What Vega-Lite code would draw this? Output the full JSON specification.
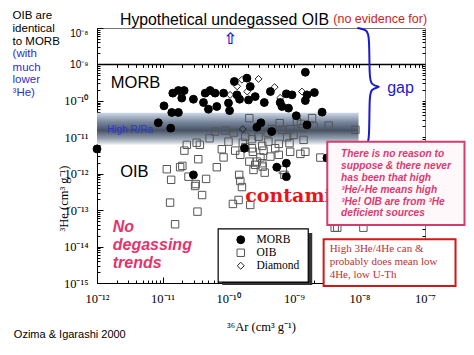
{
  "$schema": "https://vega.github.io/schema/vega-lite/v6.json",
  "width": 328,
  "height": 255,
  "autosize": "none",
  "padding": {"left": 97, "top": 28, "right": 49, "bottom": 72},
  "background": "white",
  "config": {"view": {"stroke": "#777777", "strokeWidth": 1}},
  "resolve": {"axis": {"x": "independent", "y": "independent"}},
  "datasets": {
    "band": [{"x1": 1e-12, "x2": 9.7e-9, "y1": 4.7e-11, "y2": 6.2e-12}],
    "lshadow": [{"x1": 8.1e-11, "x2": 1.91e-9, "y1": 2.37e-14, "y2": 8.8e-16}],
    "lbox": [{"x1": 7.03e-11, "x2": 1.66e-9, "y1": 3.05e-14, "y2": 1.06e-15}],
    "hline": [{"y": 1e-9}],
    "pts": [
      {"x": 1.16e-11, "y": 1.33e-12, "type": "OIB"}, {"x": 1.35e-11, "y": 6.8e-13, "type": "OIB"}, {"x": 1.3e-11, "y": 1.61e-13, "type": "OIB"}, {"x": 1.55e-11, "y": 4.1e-14, "type": "OIB"},
      {"x": 1.85e-11, "y": 1.51e-12, "type": "OIB"}, {"x": 2.0e-11, "y": 1.64e-12, "type": "OIB"}, {"x": 2.15e-11, "y": 4.3e-12, "type": "OIB"}, {"x": 2.34e-11, "y": 6.2e-12, "type": "OIB"},
      {"x": 2.48e-11, "y": 8.3e-13, "type": "OIB"}, {"x": 3.13e-11, "y": 4.6e-13, "type": "OIB"}, {"x": 3.2e-11, "y": 5.2e-13, "type": "OIB"}, {"x": 3.5e-11, "y": 2.5e-12, "type": "OIB"},
      {"x": 3.7e-11, "y": 6.2e-12, "type": "OIB"}, {"x": 4.0e-11, "y": 2.6e-13, "type": "OIB"}, {"x": 4.6e-11, "y": 7.2e-13, "type": "OIB"}, {"x": 3.4e-11, "y": 9.1e-14, "type": "OIB"},
      {"x": 5.2e-11, "y": 9.4e-12, "type": "OIB"}, {"x": 6.3e-11, "y": 1.44e-11, "type": "OIB"}, {"x": 6.7e-11, "y": 1.51e-12, "type": "OIB"}, {"x": 8.0e-11, "y": 4.7e-12, "type": "OIB"},
      {"x": 8.5e-11, "y": 2.8e-12, "type": "OIB"}, {"x": 9.0e-11, "y": 1.53e-11, "type": "OIB"}, {"x": 1.01e-10, "y": 7.6e-12, "type": "OIB"}, {"x": 1.21e-10, "y": 1.35e-11, "type": "OIB"},
      {"x": 1.28e-10, "y": 4.3e-12, "type": "OIB"}, {"x": 1.18e-10, "y": 1.48e-13, "type": "OIB"}, {"x": 1.44e-10, "y": 1.9e-13, "type": "OIB"}, {"x": 1.47e-10, "y": 9.3e-13, "type": "OIB"},
      {"x": 1.53e-10, "y": 6.3e-13, "type": "OIB"}, {"x": 1.62e-10, "y": 4.3e-13, "type": "OIB"}, {"x": 1.53e-10, "y": 3.3e-12, "type": "OIB"}, {"x": 1.67e-10, "y": 7.1e-12, "type": "OIB"},
      {"x": 1.82e-10, "y": 1.04e-11, "type": "OIB"}, {"x": 1.82e-10, "y": 5.3e-12, "type": "OIB"}, {"x": 2.17e-10, "y": 1.39e-13, "type": "OIB"}, {"x": 2.1e-10, "y": 3.35e-11, "type": "OIB"},
      {"x": 2.3e-10, "y": 8.9e-12, "type": "OIB"}, {"x": 2.3e-10, "y": 5.0e-12, "type": "OIB"}, {"x": 2.38e-10, "y": 4.0e-12, "type": "OIB"}, {"x": 2.43e-10, "y": 1.27e-12, "type": "OIB"},
      {"x": 2.58e-10, "y": 1.75e-12, "type": "OIB"}, {"x": 2.74e-10, "y": 2.15e-12, "type": "OIB"}, {"x": 3.1e-10, "y": 2.8e-12, "type": "OIB"}, {"x": 3.3e-10, "y": 1.94e-12, "type": "OIB"},
      {"x": 3.35e-10, "y": 1.57e-12, "type": "OIB"}, {"x": 2.9e-10, "y": 1.04e-11, "type": "OIB"}, {"x": 3.3e-10, "y": 5.8e-12, "type": "OIB"}, {"x": 3.46e-10, "y": 4.3e-12, "type": "OIB"},
      {"x": 3.6e-10, "y": 1.07e-12, "type": "OIB"}, {"x": 4.0e-10, "y": 1.35e-11, "type": "OIB"}, {"x": 4.1e-10, "y": 7.6e-12, "type": "OIB"}, {"x": 4.6e-10, "y": 1.67e-11, "type": "OIB"},
      {"x": 4.4e-10, "y": 2.95e-12, "type": "OIB"}, {"x": 5.2e-10, "y": 5.0e-12, "type": "OIB"}, {"x": 5.9e-10, "y": 6.6e-12, "type": "OIB"}, {"x": 6.1e-10, "y": 2.44e-11, "type": "OIB"},
      {"x": 6.6e-10, "y": 1.6e-11, "type": "OIB"}, {"x": 5.9e-10, "y": 3.3e-12, "type": "OIB"}, {"x": 6.8e-10, "y": 1.27e-12, "type": "OIB"}, {"x": 7.2e-10, "y": 9.3e-13, "type": "OIB"},
      {"x": 7.9e-10, "y": 1.0e-11, "type": "OIB"}, {"x": 8.6e-10, "y": 6.9e-12, "type": "OIB"}, {"x": 8.8e-10, "y": 1.67e-11, "type": "OIB"}, {"x": 9.9e-10, "y": 1.16e-11, "type": "OIB"},
      {"x": 8.8e-10, "y": 4.0e-12, "type": "OIB"}, {"x": 1.12e-9, "y": 2.7e-11, "type": "OIB"}, {"x": 1.29e-9, "y": 2.33e-11, "type": "OIB"}, {"x": 1.38e-9, "y": 1.78e-11, "type": "OIB"},
      {"x": 1.41e-9, "y": 8.5e-12, "type": "OIB"}, {"x": 1.5e-9, "y": 4.0e-12, "type": "OIB"}, {"x": 1.9e-9, "y": 3.35e-11, "type": "OIB"}, {"x": 2.0e-9, "y": 1.97e-11, "type": "OIB"},
      {"x": 2.54e-9, "y": 2.77e-12, "type": "OIB"}, {"x": 3.4e-9, "y": 2.1e-11, "type": "OIB"}, {"x": 8.7e-9, "y": 1.6e-11, "type": "OIB"}, {"x": 4.2e-9, "y": 3.3e-14, "type": "OIB"},
      {"x": 4.6e-9, "y": 3.3e-14, "type": "OIB"}, {"x": 1.15e-8, "y": 3.3e-14, "type": "OIB"}, {"x": 3.3e-11, "y": 7.1e-12, "type": "OIB"}, {"x": 2.1e-10, "y": 2.15e-12, "type": "OIB"},
      {"x": 1.26e-9, "y": 3.5e-12, "type": "OIB"},
      {"x": 1.62e-10, "y": 3.8e-10, "type": "Diamond"}, {"x": 2.9e-10, "y": 4.0e-10, "type": "Diamond"}, {"x": 1.37e-10, "y": 2.5e-10, "type": "Diamond"}, {"x": 1.95e-10, "y": 1.8e-10, "type": "Diamond"},
      {"x": 5.1e-10, "y": 2.38e-10, "type": "Diamond"}, {"x": 1.33e-9, "y": 1.8e-10, "type": "Diamond"}, {"x": 6.2e-10, "y": 1.21e-10, "type": "Diamond"}, {"x": 1.67e-10, "y": 1.67e-11, "type": "Diamond"},
      {"x": 1.07e-10, "y": 1.46e-10, "type": "Diamond"},
      {"x": 1e-12, "y": 4.8e-12, "type": "MORB"}, {"x": 8.6e-12, "y": 2.5e-11, "type": "MORB"}, {"x": 1.05e-11, "y": 7.3e-11, "type": "MORB"}, {"x": 1.33e-11, "y": 1.78e-11, "type": "MORB"},
      {"x": 1.38e-11, "y": 4.8e-11, "type": "MORB"}, {"x": 1.74e-11, "y": 4.8e-11, "type": "MORB"}, {"x": 1.43e-11, "y": 1.63e-10, "type": "MORB"}, {"x": 1.74e-11, "y": 1.92e-10, "type": "MORB"},
      {"x": 2.13e-11, "y": 1.92e-10, "type": "MORB"}, {"x": 1.96e-11, "y": 1.19e-10, "type": "MORB"}, {"x": 2.95e-11, "y": 1.11e-10, "type": "MORB"}, {"x": 4.46e-11, "y": 1.63e-10, "type": "MORB"},
      {"x": 5.3e-11, "y": 1.92e-10, "type": "MORB"}, {"x": 6.3e-11, "y": 1.63e-10, "type": "MORB"}, {"x": 4.2e-11, "y": 9.0e-11, "type": "MORB"}, {"x": 5.0e-11, "y": 5.9e-11, "type": "MORB"},
      {"x": 6.7e-11, "y": 7.0e-11, "type": "MORB"}, {"x": 8.5e-11, "y": 1.63e-10, "type": "MORB"}, {"x": 1.01e-10, "y": 8.7e-11, "type": "MORB"}, {"x": 1.05e-10, "y": 5.4e-11, "type": "MORB"},
      {"x": 1.24e-10, "y": 3.4e-10, "type": "MORB"}, {"x": 1.36e-10, "y": 1.46e-10, "type": "MORB"}, {"x": 1.49e-10, "y": 1.11e-10, "type": "MORB"}, {"x": 1.93e-10, "y": 4.2e-10, "type": "MORB"},
      {"x": 2.17e-10, "y": 2.47e-10, "type": "MORB"}, {"x": 2.04e-10, "y": 1.06e-10, "type": "MORB"}, {"x": 2.58e-10, "y": 1.31e-10, "type": "MORB"}, {"x": 3.55e-10, "y": 9.0e-11, "type": "MORB"},
      {"x": 4.4e-10, "y": 1.8e-10, "type": "MORB"}, {"x": 6.2e-10, "y": 9.0e-11, "type": "MORB"}, {"x": 6.6e-10, "y": 7.0e-11, "type": "MORB"}, {"x": 7.7e-10, "y": 1.56e-10, "type": "MORB"},
      {"x": 8.3e-10, "y": 6.3e-11, "type": "MORB"}, {"x": 9.4e-10, "y": 1.46e-10, "type": "MORB"}, {"x": 1.5e-9, "y": 6.1e-10, "type": "MORB"}, {"x": 1.59e-9, "y": 1.46e-10, "type": "MORB"},
      {"x": 1.5e-9, "y": 1.02e-10, "type": "MORB"}, {"x": 2.06e-9, "y": 1.69e-10, "type": "MORB"}, {"x": 2.7e-9, "y": 4.9e-11, "type": "MORB"}, {"x": 1.09e-9, "y": 3.9e-11, "type": "MORB"},
      {"x": 3.15e-10, "y": 2.5e-11, "type": "MORB"}, {"x": 2.74e-10, "y": 1.89e-11, "type": "MORB"}, {"x": 4.6e-10, "y": 1.44e-11, "type": "MORB"}, {"x": 1.59e-9, "y": 2.19e-11, "type": "MORB"},
      {"x": 1.77e-10, "y": 5.0e-12, "type": "MORB"}, {"x": 2.95e-11, "y": 9.3e-13, "type": "MORB"}, {"x": 5.5e-10, "y": 1.51e-12, "type": "MORB"}, {"x": 7.7e-10, "y": 1.94e-12, "type": "MORB"},
      {"x": 7.7e-10, "y": 8.3e-13, "type": "MORB"}, {"x": 3.2e-9, "y": 2.7e-12, "type": "MORB"}
    ],
    "rra": [{"x": 1.42e-12, "y": 1.6e-11, "t": "High R/Ra"}],
    "big": [{"x": 3.87e-12, "y": 3.06e-10, "t": "MORB"}, {"x": 3.71e-12, "y": 1.14e-12, "t": "OIB"}],
    "title": [{"x": 2.24e-12, "y": 1.61e-8, "t": "Hypothetical undegassed OIB"}],
    "noev": [{"x": 4.0e-9, "y": 1.79e-8, "t": "(no evidence for)"}],
    "arrow": [{"x": 1.07e-10, "y": 4.9e-9, "t": "⇧"}],
    "gap": [{"x": 4.23e-8, "y": 2.28e-10, "t": "gap"}],
    "brace": [
      {"o": 1, "x": 9.3e-9, "y": 1e-8}, {"o": 2, "x": 1.3e-8, "y": 9.0e-9}, {"o": 3, "x": 1.42e-8, "y": 6.1e-9},
      {"o": 4, "x": 1.42e-8, "y": 4.6e-10}, {"o": 5, "x": 1.5e-8, "y": 2.8e-10}, {"o": 6, "x": 2.0e-8, "y": 2.43e-10}, {"o": 7, "x": 2.0e-8, "y": 2.43e-10},
      {"o": 8, "x": 1.5e-8, "y": 2.1e-10}, {"o": 9, "x": 1.42e-8, "y": 1.3e-10}, {"o": 10, "x": 1.42e-8, "y": 8.5e-12},
      {"o": 11, "x": 1.3e-8, "y": 5.3e-12}, {"o": 12, "x": 9.66e-9, "y": 4.5e-12}
    ],
    "leftblack": [
      {"x": 5.16e-14, "y": 2.07e-8, "t": "OIB are"}, {"x": 5.16e-14, "y": 9.33e-9, "t": "identical"}, {"x": 5.16e-14, "y": 4.26e-9, "t": "to MORB"}
    ],
    "leftblue": [
      {"x": 5.16e-14, "y": 1.92e-9, "t": "(with"}, {"x": 5.16e-14, "y": 8.2e-10, "t": "much"}, {"x": 5.16e-14, "y": 3.78e-10, "t": "lower"}, {"x": 5.16e-14, "y": 1.63e-10, "t": "³He)"}
    ],
    "nodeg": [
      {"x": 1.74e-12, "y": 3.5e-14, "t": "No"}, {"x": 1.74e-12, "y": 1.11e-14, "t": "degassing"}, {"x": 1.74e-12, "y": 3.6e-15, "t": "trends"}
    ],
    "cite": [{"x": 5.4e-14, "y": 3.7e-17, "t": "Ozima & Igarashi 2000"}],
    "contam": [{"x": 1.82e-10, "y": 2.45e-13, "t": "contami"}],
    "pinkbox": [{"x1": 3.24e-9, "x2": 4.0e-7, "y1": 7.6e-12, "y2": 3.9e-14}],
    "pinktext": [
      {"x": 5.26e-9, "y": 3.5e-12, "t": "There is no reason to"},
      {"x": 5.26e-9, "y": 1.67e-12, "t": "suppose & there never"},
      {"x": 5.26e-9, "y": 7.8e-13, "t": "has been that high"},
      {"x": 5.26e-9, "y": 3.6e-13, "t": "³He/⁴He means high"},
      {"x": 5.26e-9, "y": 1.71e-13, "t": "³He! OIB are from ³He"},
      {"x": 5.26e-9, "y": 8.2e-14, "t": "deficient sources"}
    ],
    "redbox": [{"x1": 2.85e-9, "x2": 2.92e-7, "y1": 1.59e-14, "y2": 8.3e-16}],
    "redtext": [
      {"x": 3.52e-9, "y": 8.4e-15, "t": "High 3He/4He can &"},
      {"x": 3.52e-9, "y": 3.7e-15, "t": "probably does mean low"},
      {"x": 3.52e-9, "y": 1.66e-15, "t": "4He, low U-Th"}
    ]
  },
  "layer": [
    {
      "data": {"name": "band"},
      "mark": {"type": "rect", "fill": {"gradient": "linear", "x1": 0, "y1": 0, "x2": 0, "y2": 1, "stops": [{"offset": 0, "color": "#cdd8e6"}, {"offset": 0.3, "color": "#76849a"}, {"offset": 0.55, "color": "#475365"}, {"offset": 0.8, "color": "#949fae"}, {"offset": 1, "color": "#eef1f5"}]}},
      "encoding": {
        "x": {"field": "x1", "type": "quantitative", "scale": {"type": "log", "domain": [1e-12, 1e-7]},
          "axis": {"orient": "bottom", "values": [1e-12, 1e-11, 1e-10, 1e-9, 1e-8, 1e-7], "labelExpr": "'10⁻' + (round(-log(datum.value)/LN10) >= 10 ? '¹' : '') + substring('⁰¹²³⁴⁵⁶⁷⁸⁹', round(-log(datum.value)/LN10) % 10, round(-log(datum.value)/LN10) % 10 + 1)", "labelFont": "Liberation Serif", "labelFontSize": 12.5, "labelColor": "black", "labelFlush": false, "labelOverlap": false, "tickSize": -6, "tickColor": "black", "labelPadding": 15, "domainColor": "black", "grid": false, "title": "³⁶Ar (cm³ g⁻¹)", "titleFont": "Liberation Serif", "titleFontSize": 12.5, "titleFontWeight": "normal", "titleColor": "black", "titlePadding": 16}},
        "x2": {"field": "x2"},
        "y": {"field": "y1", "type": "quantitative", "scale": {"type": "log", "domain": [1e-15, 1e-8]},
          "axis": {"orient": "left", "values": [1e-15, 1e-14, 1e-13, 1e-12, 1e-11, 1e-10, 1e-9, 1e-8], "labelExpr": "'10⁻' + (round(-log(datum.value)/LN10) >= 10 ? '¹' : '') + substring('⁰¹²³⁴⁵⁶⁷⁸⁹', round(-log(datum.value)/LN10) % 10, round(-log(datum.value)/LN10) % 10 + 1)", "labelFont": {"condition": {"test": "datum.value > 5e-10", "value": "Liberation Sans"}, "value": "Liberation Serif"}, "labelFontSize": {"condition": {"test": "datum.value > 5e-10", "value": 10}, "value": 12.5}, "labelBaseline": {"condition": {"test": "datum.value > 5e-9", "value": "top"}, "value": "middle"}, "labelColor": "black", "labelOverlap": false, "tickSize": -6, "tickColor": "black", "labelPadding": 15, "domainColor": "black", "grid": false, "title": "³He (cm³ g⁻¹)", "titleFont": "Liberation Serif", "titleFontSize": 12.5, "titleFontWeight": "normal", "titleColor": "black", "titleX": -27, "titleY": 170}},
        "y2": {"field": "y2"}
      }
    },
    {
      "data": {"name": "lshadow"},
      "mark": {"type": "rect", "fill": "#333333"},
      "encoding": {
        "x": {"field": "x1", "type": "quantitative", "scale": {"type": "log", "domain": [1e-12, 1e-7]},
          "axis": {"orient": "bottom", "values": [2e-12, 3e-12, 4e-12, 5e-12, 6e-12, 7e-12, 8e-12, 9e-12, 2e-11, 3e-11, 4e-11, 5e-11, 6e-11, 7e-11, 8e-11, 9e-11, 2e-10, 3e-10, 4e-10, 5e-10, 6e-10, 7e-10, 8e-10, 9e-10, 2e-9, 3e-9, 4e-9, 5e-9, 6e-9, 7e-9, 8e-9, 9e-9, 2e-8, 3e-8, 4e-8, 5e-8, 6e-8, 7e-8, 8e-8, 9e-8], "labels": false, "domain": false, "tickSize": -3, "tickColor": "black", "grid": false, "title": null}},
        "x2": {"field": "x2"},
        "y": {"field": "y1", "type": "quantitative", "scale": {"type": "log", "domain": [1e-15, 1e-8]},
          "axis": {"orient": "left", "values": [2e-15, 3e-15, 4e-15, 5e-15, 6e-15, 7e-15, 8e-15, 9e-15, 2e-14, 3e-14, 4e-14, 5e-14, 6e-14, 7e-14, 8e-14, 9e-14, 2e-13, 3e-13, 4e-13, 5e-13, 6e-13, 7e-13, 8e-13, 9e-13, 2e-12, 3e-12, 4e-12, 5e-12, 6e-12, 7e-12, 8e-12, 9e-12, 2e-11, 3e-11, 4e-11, 5e-11, 6e-11, 7e-11, 8e-11, 9e-11, 2e-10, 3e-10, 4e-10, 5e-10, 6e-10, 7e-10, 8e-10, 9e-10, 2e-9, 3e-9, 4e-9, 5e-9, 6e-9, 7e-9, 8e-9, 9e-9], "labels": false, "domain": false, "tickSize": -3, "tickColor": "black", "grid": false, "title": null}},
        "y2": {"field": "y2"}
      }
    },
    {
      "data": {"name": "lbox"},
      "mark": {"type": "rect", "fill": "white", "stroke": "black", "strokeWidth": 1.2},
      "encoding": {
        "x": {"field": "x1", "type": "quantitative", "scale": {"type": "log", "domain": [1e-12, 1e-7]}, "axis": null},
        "x2": {"field": "x2"},
        "y": {"field": "y1", "type": "quantitative", "scale": {"type": "log", "domain": [1e-15, 1e-8]}, "axis": null},
        "y2": {"field": "y2"}
      }
    },
    {
      "data": {"name": "hline"},
      "mark": {"type": "rule", "color": "black", "strokeWidth": 1.5},
      "encoding": {
        "y": {"field": "y", "type": "quantitative", "scale": {"type": "log", "domain": [1e-15, 1e-8]}, "axis": null}
      }
    },
    {
      "data": {"name": "pts"},
      "mark": {"type": "point", "strokeWidth": 1, "opacity": 1},
      "encoding": {
        "x": {"field": "x", "type": "quantitative", "scale": {"type": "log", "domain": [1e-12, 1e-7]},
          "axis": {"orient": "top", "offset": -36.4, "values": [2e-12, 3e-12, 4e-12, 5e-12, 6e-12, 7e-12, 8e-12, 9e-12, 1e-11, 2e-11, 3e-11, 4e-11, 5e-11, 6e-11, 7e-11, 8e-11, 9e-11, 1e-10, 2e-10, 3e-10, 4e-10, 5e-10, 6e-10, 7e-10, 8e-10, 9e-10, 1e-9, 2e-9, 3e-9, 4e-9, 5e-9, 6e-9, 7e-9, 8e-9, 9e-9, 1e-8, 2e-8, 3e-8, 4e-8, 5e-8, 6e-8, 7e-8, 8e-8, 9e-8], "labels": false, "domain": false, "tickSize": -3, "tickColor": "black", "grid": false, "title": null}},
        "y": {"field": "y", "type": "quantitative", "scale": {"type": "log", "domain": [1e-15, 1e-8]},
          "axis": {"orient": "right", "values": [2e-15, 3e-15, 4e-15, 5e-15, 6e-15, 7e-15, 8e-15, 9e-15, 1e-14, 2e-14, 3e-14, 4e-14, 5e-14, 6e-14, 7e-14, 8e-14, 9e-14, 1e-13, 2e-13, 3e-13, 4e-13, 5e-13, 6e-13, 7e-13, 8e-13, 9e-13, 1e-12, 2e-12, 3e-12, 4e-12, 5e-12, 6e-12, 7e-12, 8e-12, 9e-12, 1e-11, 2e-11, 3e-11, 4e-11, 5e-11, 6e-11, 7e-11, 8e-11, 9e-11, 1e-10, 2e-10, 3e-10, 4e-10, 5e-10, 6e-10, 7e-10, 8e-10, 9e-10, 1e-9, 2e-9, 3e-9, 4e-9, 5e-9, 6e-9, 7e-9, 8e-9, 9e-9], "labels": false, "domain": false, "tickSize": -3, "tickColor": "black", "grid": false, "title": null}},
        "shape": {"field": "type", "type": "nominal", "scale": {"domain": ["MORB", "OIB", "Diamond"], "range": ["circle", "square", "diamond"]},
          "legend": {"orient": "none", "legendX": 138, "legendY": 206, "title": null, "padding": 0, "labelFont": "Liberation Serif", "labelFontSize": 11.5, "labelColor": "black", "labelOffset": 10, "rowPadding": 0, "symbolStrokeWidth": 1}},
        "fill": {"field": "type", "type": "nominal", "scale": {"domain": ["MORB", "OIB", "Diamond"], "range": ["black", "transparent", "transparent"]},
          "legend": {"orient": "none", "legendX": 138, "legendY": 206, "title": null, "padding": 0, "labelFont": "Liberation Serif", "labelFontSize": 11.5, "labelColor": "black", "labelOffset": 10, "rowPadding": 0, "symbolStrokeWidth": 1}},
        "stroke": {"field": "type", "type": "nominal", "scale": {"domain": ["MORB", "OIB", "Diamond"], "range": ["black", "#555555", "#222222"]},
          "legend": {"orient": "none", "legendX": 138, "legendY": 206, "title": null, "padding": 0, "labelFont": "Liberation Serif", "labelFontSize": 11.5, "labelColor": "black", "labelOffset": 10, "rowPadding": 0, "symbolStrokeWidth": 1}},
        "size": {"field": "type", "type": "nominal", "scale": {"domain": ["MORB", "OIB", "Diamond"], "range": [62, 48, 58]},
          "legend": {"orient": "none", "legendX": 138, "legendY": 206, "title": null, "padding": 0, "labelFont": "Liberation Serif", "labelFontSize": 11.5, "labelColor": "black", "labelOffset": 10, "rowPadding": 0, "symbolStrokeWidth": 1}}
      }
    },
    {
      "data": {"name": "rra"},
      "mark": {"type": "text", "align": "left", "baseline": "middle", "font": "Liberation Sans", "fontSize": 10, "color": "#2a36d8"},
      "encoding": {"x": {"field": "x", "type": "quantitative", "scale": {"type": "log", "domain": [1e-12, 1e-7]}, "axis": null}, "y": {"field": "y", "type": "quantitative", "scale": {"type": "log", "domain": [1e-15, 1e-8]}, "axis": null}, "text": {"field": "t"}}
    },
    {
      "data": {"name": "big"},
      "mark": {"type": "text", "align": "center", "baseline": "middle", "font": "Liberation Sans", "fontSize": 16.5, "color": "black"},
      "encoding": {"x": {"field": "x", "type": "quantitative", "scale": {"type": "log", "domain": [1e-12, 1e-7]}, "axis": null}, "y": {"field": "y", "type": "quantitative", "scale": {"type": "log", "domain": [1e-15, 1e-8]}, "axis": null}, "text": {"field": "t"}}
    },
    {
      "data": {"name": "title"},
      "mark": {"type": "text", "align": "left", "baseline": "middle", "font": "Liberation Sans", "fontSize": 15.8, "color": "black"},
      "encoding": {"x": {"field": "x", "type": "quantitative", "scale": {"type": "log", "domain": [1e-12, 1e-7]}, "axis": null}, "y": {"field": "y", "type": "quantitative", "scale": {"type": "log", "domain": [1e-15, 1e-8]}, "axis": null}, "text": {"field": "t"}}
    },
    {
      "data": {"name": "noev"},
      "mark": {"type": "text", "align": "left", "baseline": "middle", "font": "Liberation Sans", "fontSize": 12.5, "color": "#d42020"},
      "encoding": {"x": {"field": "x", "type": "quantitative", "scale": {"type": "log", "domain": [1e-12, 1e-7]}, "axis": null}, "y": {"field": "y", "type": "quantitative", "scale": {"type": "log", "domain": [1e-15, 1e-8]}, "axis": null}, "text": {"field": "t"}}
    },
    {
      "data": {"name": "arrow"},
      "mark": {"type": "text", "align": "center", "baseline": "middle", "font": "DejaVu Sans", "fontSize": 16, "fontWeight": "bold", "color": "#1a1ad0"},
      "encoding": {"x": {"field": "x", "type": "quantitative", "scale": {"type": "log", "domain": [1e-12, 1e-7]}, "axis": null}, "y": {"field": "y", "type": "quantitative", "scale": {"type": "log", "domain": [1e-15, 1e-8]}, "axis": null}, "text": {"field": "t"}}
    },
    {
      "data": {"name": "gap"},
      "mark": {"type": "text", "align": "center", "baseline": "middle", "font": "Liberation Sans", "fontSize": 16, "color": "#1a1ad0"},
      "encoding": {"x": {"field": "x", "type": "quantitative", "scale": {"type": "log", "domain": [1e-12, 1e-7]}, "axis": null}, "y": {"field": "y", "type": "quantitative", "scale": {"type": "log", "domain": [1e-15, 1e-8]}, "axis": null}, "text": {"field": "t"}}
    },
    {
      "data": {"name": "brace"},
      "mark": {"type": "line", "interpolate": "basis", "color": "#1a1ad0", "strokeWidth": 2},
      "encoding": {"x": {"field": "x", "type": "quantitative", "scale": {"type": "log", "domain": [1e-12, 1e-7]}, "axis": null}, "y": {"field": "y", "type": "quantitative", "scale": {"type": "log", "domain": [1e-15, 1e-8]}, "axis": null}, "order": {"field": "o", "type": "quantitative"}}
    },
    {
      "data": {"name": "leftblack"},
      "mark": {"type": "text", "align": "left", "baseline": "middle", "font": "Liberation Sans", "fontSize": 11.5, "color": "black"},
      "encoding": {"x": {"field": "x", "type": "quantitative", "scale": {"type": "log", "domain": [1e-12, 1e-7]}, "axis": null}, "y": {"field": "y", "type": "quantitative", "scale": {"type": "log", "domain": [1e-15, 1e-8]}, "axis": null}, "text": {"field": "t"}}
    },
    {
      "data": {"name": "leftblue"},
      "mark": {"type": "text", "align": "left", "baseline": "middle", "font": "Liberation Sans", "fontSize": 11.5, "color": "#2f2fcc"},
      "encoding": {"x": {"field": "x", "type": "quantitative", "scale": {"type": "log", "domain": [1e-12, 1e-7]}, "axis": null}, "y": {"field": "y", "type": "quantitative", "scale": {"type": "log", "domain": [1e-15, 1e-8]}, "axis": null}, "text": {"field": "t"}}
    },
    {
      "data": {"name": "nodeg"},
      "mark": {"type": "text", "align": "left", "baseline": "middle", "font": "Liberation Sans", "fontSize": 16, "fontWeight": "bold", "fontStyle": "italic", "color": "#e6336b"},
      "encoding": {"x": {"field": "x", "type": "quantitative", "scale": {"type": "log", "domain": [1e-12, 1e-7]}, "axis": null}, "y": {"field": "y", "type": "quantitative", "scale": {"type": "log", "domain": [1e-15, 1e-8]}, "axis": null}, "text": {"field": "t"}}
    },
    {
      "data": {"name": "cite"},
      "mark": {"type": "text", "align": "left", "baseline": "middle", "font": "Liberation Sans", "fontSize": 11, "color": "black"},
      "encoding": {"x": {"field": "x", "type": "quantitative", "scale": {"type": "log", "domain": [1e-12, 1e-7]}, "axis": null}, "y": {"field": "y", "type": "quantitative", "scale": {"type": "log", "domain": [1e-15, 1e-8]}, "axis": null}, "text": {"field": "t"}}
    },
    {
      "data": {"name": "contam"},
      "mark": {"type": "text", "align": "left", "baseline": "middle", "font": "DejaVu Serif", "fontSize": 19, "fontWeight": "bold", "color": "#e8141c"},
      "encoding": {"x": {"field": "x", "type": "quantitative", "scale": {"type": "log", "domain": [1e-12, 1e-7]}, "axis": null}, "y": {"field": "y", "type": "quantitative", "scale": {"type": "log", "domain": [1e-15, 1e-8]}, "axis": null}, "text": {"field": "t"}}
    },
    {
      "data": {"name": "pinkbox"},
      "mark": {"type": "rect", "fill": "#fff8fa", "stroke": "#d23c70", "strokeWidth": 2},
      "encoding": {"x": {"field": "x1", "type": "quantitative", "scale": {"type": "log", "domain": [1e-12, 1e-7]}, "axis": null}, "x2": {"field": "x2"}, "y": {"field": "y1", "type": "quantitative", "scale": {"type": "log", "domain": [1e-15, 1e-8]}, "axis": null}, "y2": {"field": "y2"}}
    },
    {
      "data": {"name": "pinktext"},
      "mark": {"type": "text", "align": "left", "baseline": "middle", "font": "Liberation Sans", "fontSize": 10.2, "fontWeight": "bold", "fontStyle": "italic", "color": "#e0386e"},
      "encoding": {"x": {"field": "x", "type": "quantitative", "scale": {"type": "log", "domain": [1e-12, 1e-7]}, "axis": null}, "y": {"field": "y", "type": "quantitative", "scale": {"type": "log", "domain": [1e-15, 1e-8]}, "axis": null}, "text": {"field": "t"}}
    },
    {
      "data": {"name": "redbox"},
      "mark": {"type": "rect", "fill": "white", "stroke": "#d01818", "strokeWidth": 2},
      "encoding": {"x": {"field": "x1", "type": "quantitative", "scale": {"type": "log", "domain": [1e-12, 1e-7]}, "axis": null}, "x2": {"field": "x2"}, "y": {"field": "y1", "type": "quantitative", "scale": {"type": "log", "domain": [1e-15, 1e-8]}, "axis": null}, "y2": {"field": "y2"}}
    },
    {
      "data": {"name": "redtext"},
      "mark": {"type": "text", "align": "left", "baseline": "middle", "font": "Liberation Serif", "fontSize": 11, "color": "#c0302f"},
      "encoding": {"x": {"field": "x", "type": "quantitative", "scale": {"type": "log", "domain": [1e-12, 1e-7]}, "axis": null}, "y": {"field": "y", "type": "quantitative", "scale": {"type": "log", "domain": [1e-15, 1e-8]}, "axis": null}, "text": {"field": "t"}}
    }
  ]
}
